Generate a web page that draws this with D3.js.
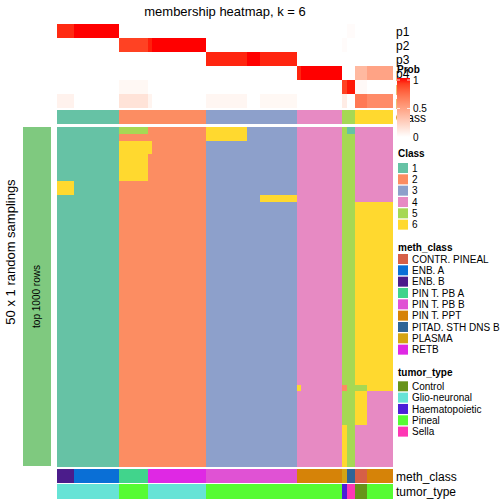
<!DOCTYPE html>
<html><head><meta charset="utf-8">
<script src="https://cdn.jsdelivr.net/npm/d3@7"></script>
<style>body{margin:0;background:#fff}svg{display:block;font-family:'Liberation Sans',Arial,sans-serif}</style>
</head><body><svg id="c" width="504" height="504"></svg>
<script>
// ---------- data (run-length encoded per column: [value, count]) ----------
const probNames = ["p1","p2","p3","p4","p5","p6"];
const p1Runs = [[0.95,4],[1,11],[0,55],[0.02,2],[0,9]];
const p2Runs = [[0,15],[0.89,7],[0.97,1],[1,13],[0,33],[0.02,1],[0,11]];
const p3Runs = [[0,36],[0.96,10],[1,3],[0.96,9],[0,23]];
const p4Runs = [[0,58],[0.96,1],[1,10],[0,3],[0.37,3],[0.48,6]];
const p5Runs = [[0,15],[0.04,7],[0,47],[0.89,1],[0.98,2],[0.03,3],[0,6]];
const p6Runs = [[0.07,4],[0,11],[0.15,7],[0.06,1],[0,13],[0.05,10],[0,3],[0.04,9],[0,11],[0.1,1],[0,2],[0.68,3],[0.6,6]];
const classRuns = [[1,15],[2,21],[3,22],[4,11],[5,3],[6,9]];
const methRuns = [["ENB. B",4],["ENB. A",11],["PIN T. PB A",7],["RETB",14],["PIN T. PB B",22],["PIN T. PPT",11],["PLASMA",1],["PITAD. STH DNS B",2],["CONTR. PINEAL",3],["PIN T. PPT",6]];
const tumorRuns = [["Glio-neuronal",15],["Pineal",7],["Glio-neuronal",14],["Pineal",33],["Haematopoietic",1],["Sella",2],["Control",3],["Pineal",6]];
// sampling matrix: [number of rows, runs of class per column]
const samplingBlocks = [
  [1, [[1,15],[5,7],[2,14],[6,10],[3,12],[4,11],[5,1],[1,2],[4,9]]],
  [1, [[1,15],[2,21],[6,10],[3,12],[4,11],[5,3],[4,9]]],
  [2, [[1,15],[6,8],[2,13],[3,22],[4,11],[5,3],[4,9]]],
  [4, [[1,15],[6,7],[2,14],[3,22],[4,11],[5,3],[4,9]]],
  [2, [[6,4],[1,11],[2,21],[3,22],[4,11],[5,3],[4,9]]],
  [1, [[1,15],[2,21],[3,13],[6,9],[4,11],[5,3],[4,9]]],
  [27,[[1,15],[2,21],[3,22],[4,11],[5,3],[6,9]]],
  [1, [[1,15],[2,21],[3,22],[6,1],[4,10],[2,1],[5,2],[5,3],[6,6]]],
  [5, [[1,15],[2,21],[3,22],[4,11],[5,3],[6,3],[4,6]]],
  [6, [[1,15],[2,21],[3,22],[4,11],[6,1],[5,2],[4,9]]]
];
const classNames = ["1","2","3","4","5","6"];
const classColors = ["#66C2A5","#FC8D62","#8DA0CB","#E78AC3","#A6D854","#FFD92F"];
const methNames = ["CONTR. PINEAL","ENB. A","ENB. B","PIN T. PB A","PIN T. PB B","PIN T. PPT","PITAD. STH DNS B","PLASMA","RETB"];
const methColors = ["#D65F47","#0A6FD6","#4B1C8B","#41D48C","#E052D4","#D68308","#2F6496","#D4A414","#DF28E4"];
const tumorNames = ["Control","Glio-neuronal","Haematopoietic","Pineal","Sella"];
const tumorColors = ["#67931A","#66E3D6","#4B1FD8","#56FC33","#FE37B4"];
const probTicks = [0, 0.5, 1];

// ---------- helpers ----------
const expand = runs => runs.flatMap(([v,n]) => Array(n).fill(v));
const probRows = [p1Runs,p2Runs,p3Runs,p4Runs,p5Runs,p6Runs].map(expand);
const colClass = expand(classRuns);
const colMeth = expand(methRuns);
const colTumor = expand(tumorRuns);
const matrix = samplingBlocks.flatMap(([n,runs]) => Array(n).fill(expand(runs)));
const nCol = colClass.length;

const svg = d3.select("#c");
const x = d3.scaleBand().domain(d3.range(nCol)).range([57,392]);
const yProb = d3.scaleBand().domain(probNames).range([24,108]);
const yMain = d3.scaleBand().domain(d3.range(matrix.length)).range([127,466]);
const probColor = d3.scaleLinear().domain([0,1]).range(["#FFFFFF","#FF0000"]).interpolate(d3.interpolateLab);
const classColor = d3.scaleOrdinal().domain(classNames.map(Number)).range(classColors);
const methColor = d3.scaleOrdinal().domain(methNames).range(methColors);
const tumorColor = d3.scaleOrdinal().domain(tumorNames).range(tumorColors);

// title
svg.append("text").attr("x",225).attr("y",16).attr("text-anchor","middle").attr("font-size",13).text("membership heatmap, k = 6");

// probability rows
const g = svg.append("g").attr("shape-rendering","crispEdges");
probRows.forEach((row,i) => {
  g.selectAll(null).data(row).join("rect")
    .attr("x",(d,j)=>x(j)).attr("width",x.bandwidth()+0.5)
    .attr("y",yProb(probNames[i])).attr("height",yProb.bandwidth())
    .attr("fill",d=>probColor(d));
});
// class row
g.selectAll(null).data(colClass).join("rect")
  .attr("x",(d,j)=>x(j)).attr("width",x.bandwidth()+0.5)
  .attr("y",110).attr("height",14).attr("fill",d=>classColor(d));
// main matrix
matrix.forEach((row,i) => {
  g.selectAll(null).data(row).join("rect")
    .attr("x",(d,j)=>x(j)).attr("width",x.bandwidth()+0.5)
    .attr("y",yMain(i)).attr("height",yMain.bandwidth()+0.5)
    .attr("fill",d=>classColor(d));
});
// bottom annotations
g.selectAll(null).data(colMeth).join("rect")
  .attr("x",(d,j)=>x(j)).attr("width",x.bandwidth()+0.5)
  .attr("y",469).attr("height",14).attr("fill",d=>methColor(d));
g.selectAll(null).data(colTumor).join("rect")
  .attr("x",(d,j)=>x(j)).attr("width",x.bandwidth()+0.5)
  .attr("y",484).attr("height",15).attr("fill",d=>tumorColor(d));

// left bar
g.append("rect").attr("x",23).attr("y",127).attr("width",28).attr("height",339).attr("fill","#7FC97F");
svg.append("text").attr("transform","translate(40,296.5) rotate(-90)").attr("text-anchor","middle").attr("font-size",10).text("top 1000 rows");
svg.append("text").attr("transform","translate(14.5,252) rotate(-90)").attr("text-anchor","middle").attr("font-size",13).text("50 x 1 random samplings");

// row labels
probNames.forEach(p => svg.append("text").attr("x",396).attr("y",yProb(p)+yProb.bandwidth()/2+4.5).attr("font-size",12).text(p));
svg.append("text").attr("x",396).attr("y",121.5).attr("font-size",12).text("Class");
svg.append("text").attr("x",396).attr("y",480.5).attr("font-size",12).text("meth_class");
svg.append("text").attr("x",396).attr("y",495.5).attr("font-size",12).text("tumor_type");

// Prob legend
const defs = svg.append("defs");
const grad = defs.append("linearGradient").attr("id","pg").attr("x1",0).attr("y1",1).attr("x2",0).attr("y2",0);
d3.range(0,1.01,0.1).forEach(t => grad.append("stop").attr("offset",t).attr("stop-color",probColor(t)));
const yLeg = d3.scaleLinear().domain([0,1]).range([137,80]);
svg.append("text").attr("x",397).attr("y",73).attr("font-size",10).attr("font-weight","bold").text("Prob");
svg.append("rect").attr("x",397).attr("y",yLeg(1)-2).attr("width",13).attr("height",yLeg(0)-yLeg(1)+2).attr("fill","url(#pg)");
probTicks.forEach(t => {
  svg.append("text").attr("x",413).attr("y",yLeg(t)+3.5).attr("font-size",10).text(String(t));
  if (t>0) {
    svg.append("line").attr("x1",397).attr("x2",400).attr("y1",yLeg(t)).attr("y2",yLeg(t)).attr("stroke","#fff").attr("stroke-width",0.8);
    svg.append("line").attr("x1",407).attr("x2",410).attr("y1",yLeg(t)).attr("y2",yLeg(t)).attr("stroke","#fff").attr("stroke-width",0.8);
  }
});

// discrete legends
function legend(title, names, colors, titleY, firstY) {
  svg.append("text").attr("x",398).attr("y",titleY).attr("font-size",10).attr("font-weight","bold").text(title);
  names.forEach((n,i) => {
    const yy = firstY + i*11.33;
    svg.append("rect").attr("x",398).attr("y",yy).attr("width",10).attr("height",10).attr("fill",colors[i]);
    svg.append("text").attr("x",412).attr("y",yy+8.8).attr("font-size",10).text(n);
  });
}
legend("Class", classNames, classColors, 157, 163);
legend("meth_class", methNames, methColors, 250.5, 254);
legend("tumor_type", tumorNames, tumorColors, 376, 381.3);
</script></body></html>
